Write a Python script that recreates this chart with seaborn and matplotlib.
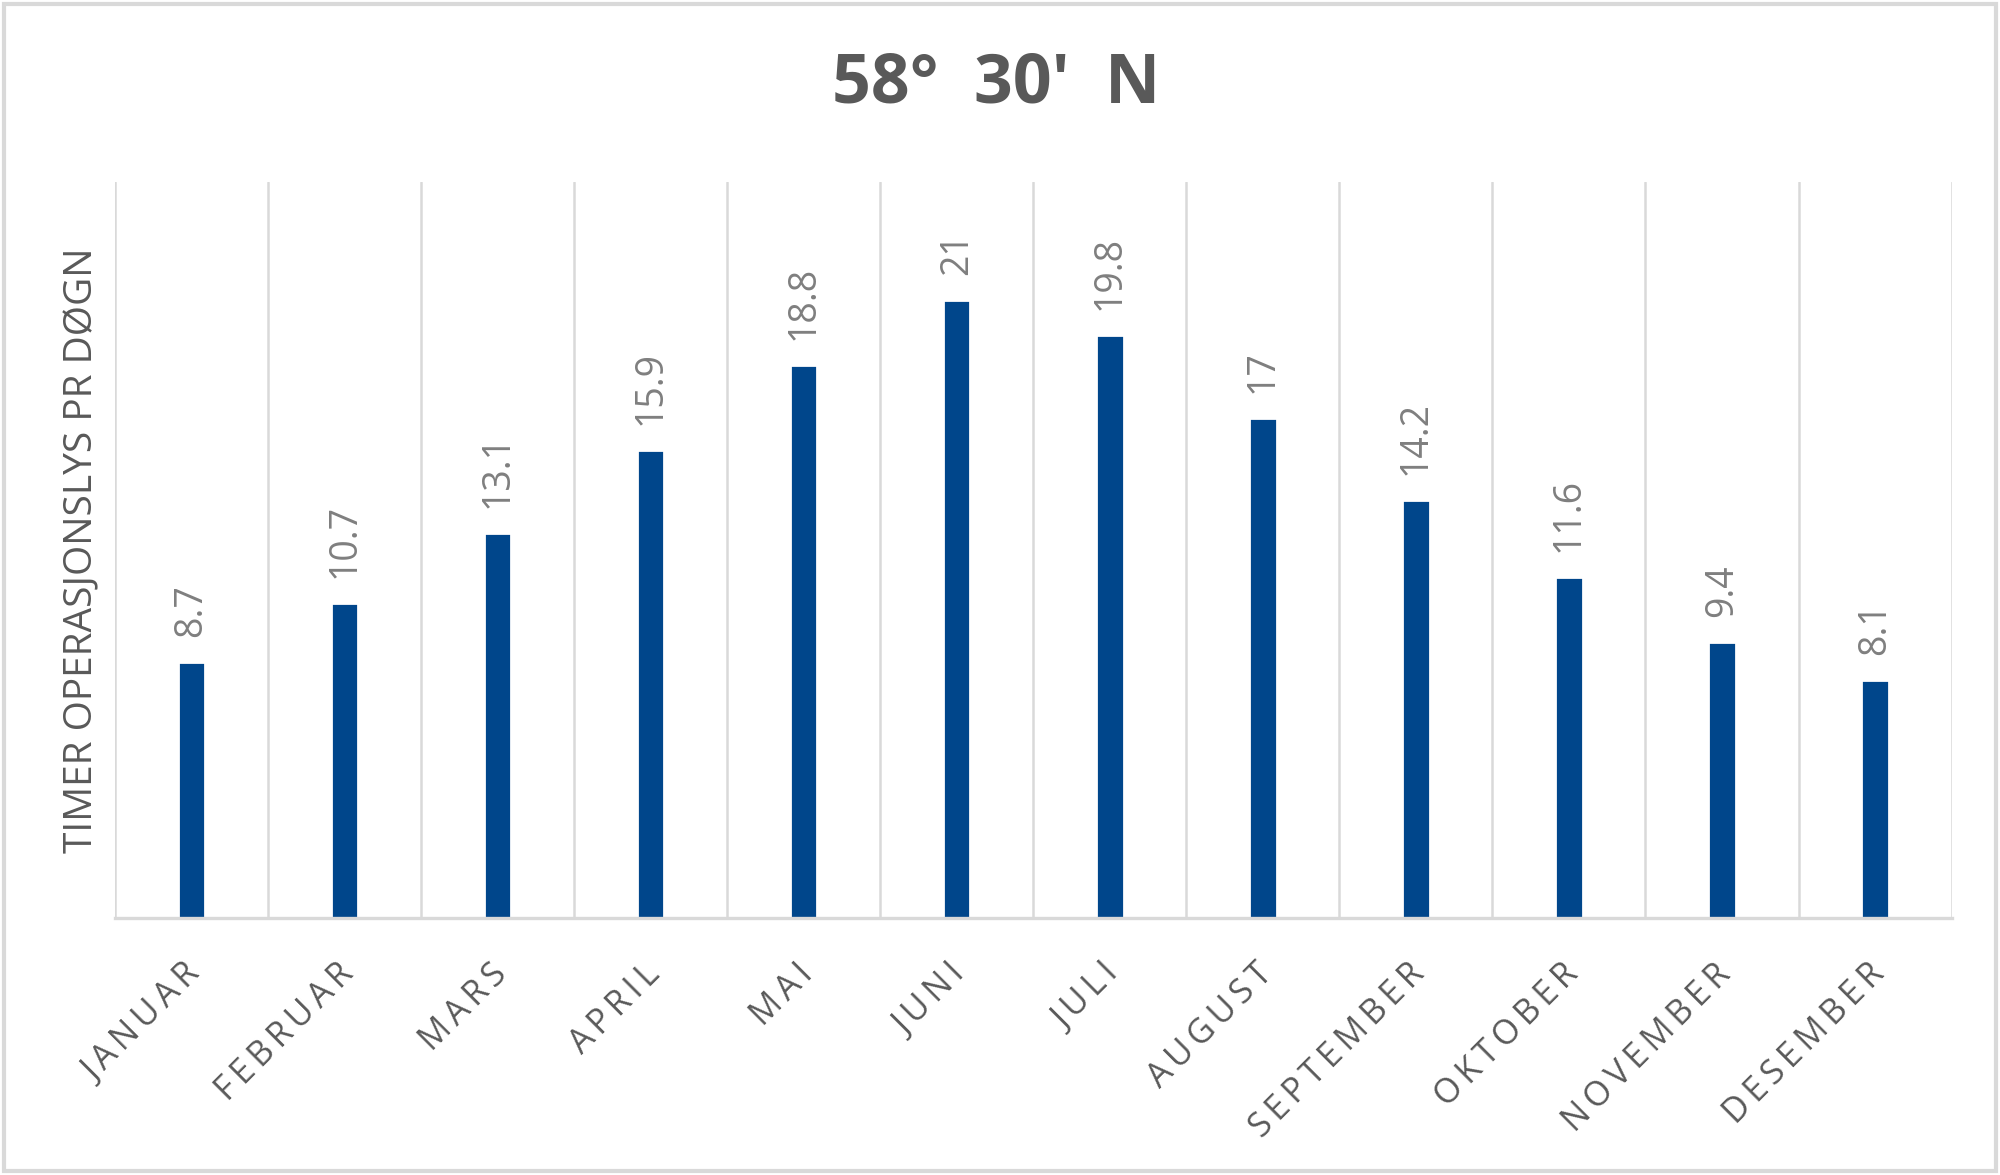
import numpy as np
import pandas as pd
import matplotlib
matplotlib.use('Agg')
import matplotlib.pyplot as plt
import matplotlib.transforms as mtransforms
from matplotlib.patches import Rectangle
import seaborn as sns

# data
months = ['JANUAR', 'FEBRUAR', 'MARS', 'APRIL', 'MAI', 'JUNI', 'JULI',
          'AUGUST', 'SEPTEMBER', 'OKTOBER', 'NOVEMBER', 'DESEMBER']
hours = [8.7, 10.7, 13.1, 15.9, 18.8, 21, 19.8, 17, 14.2, 11.6, 9.4, 8.1]
value_labels = ['8.7', '10.7', '13.1', '15.9', '18.8', '21', '19.8',
                '17', '14.2', '11.6', '9.4', '8.1']

title_text = "58°  30'  N"
ylabel_text = 'TIMER OPERASJONSLYS PR DØGN'

bar_color = '#00468B'
grid_color = '#D9D9D9'
dark_gray = '#595959'
label_gray = '#7F7F7F'

sns.set_theme(style='white')
plt.rcParams['font.family'] = ['Open Sans', 'DejaVu Sans']

df = pd.DataFrame({'month': months, 'hours': hours})

fig = plt.figure(figsize=(10, 5.875), dpi=200)
ax = fig.add_axes([0.0574, 0.2184, 0.9184, 0.6264])

sns.barplot(data=df, x='month', y='hours', order=months, color=bar_color,
            width=0.18, saturation=1, ax=ax)

ax.set_xlim(-0.5, len(months) - 0.5)
ax.set_ylim(0, 25)
ax.set_yticks([])

# vertical separators between categories
for xb in np.arange(-0.5, len(months), 1.0):
    ax.axvline(xb, color=grid_color, lw=0.9, zorder=0)

for side in ['top', 'right', 'left']:
    ax.spines[side].set_visible(False)
ax.spines['bottom'].set_color(grid_color)
ax.spines['bottom'].set_linewidth(1.2)

# value labels
for i, (v, lab) in enumerate(zip(hours, value_labels)):
    ax.annotate(lab, (i, v), xytext=(0, 9), textcoords='offset points',
                rotation=90, ha='center', va='bottom', fontsize=13.5,
                color=label_gray)

# spaced, rotated month labels
ax.set_xlabel('')
ax.set_xticks(range(len(months)))
ax.set_xticklabels(['\u2009'.join(m) for m in months], rotation=45,
                   ha='right', va='top', rotation_mode='anchor',
                   fontsize=12.2, color=dark_gray)
ax.tick_params(axis='x', length=0, pad=14)
offset = mtransforms.ScaledTranslation(-0.04, 0, fig.dpi_scale_trans)
for lbl in ax.get_xticklabels():
    lbl.set_transform(lbl.get_transform() + offset)

ax.set_ylabel(ylabel_text, fontsize=14, color=dark_gray, labelpad=5)

fig.text(0.498, 0.928, title_text, ha='center', va='center',
         fontsize=24.5, fontweight='bold', color=dark_gray)

# outer frame
fig.patches.append(Rectangle((0.002, 0.003), 0.996, 0.994,
                             transform=fig.transFigure, fill=False,
                             edgecolor=grid_color, lw=1.5))

fig.savefig('out.png', dpi=200, facecolor='white')
